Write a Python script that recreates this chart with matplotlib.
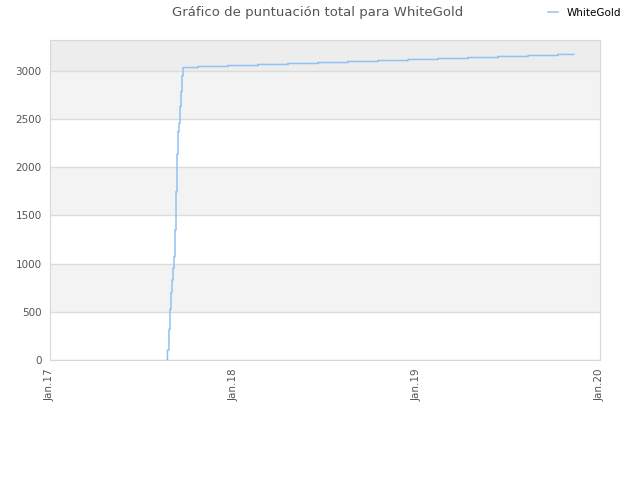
import pandas as pd
import matplotlib.pyplot as plt

# score history
dates = ['2017-08-22', '2017-08-23', '2017-08-26', '2017-08-28', '2017-08-30',
         '2017-09-01', '2017-09-03', '2017-09-05', '2017-09-07', '2017-09-09',
         '2017-09-11', '2017-09-13', '2017-09-15', '2017-09-17', '2017-09-19',
         '2017-09-21', '2017-09-23', '2017-10-23', '2017-12-21', '2018-02-19',
         '2018-04-20', '2018-06-19', '2018-08-17', '2018-10-16', '2018-12-15',
         '2019-02-12', '2019-04-13', '2019-06-12', '2019-08-11', '2019-10-09',
         '2019-11-10']
scores = [0, 104, 318, 526, 699, 830, 952, 1073, 1350, 1747, 2135, 2370, 2457,
          2630, 2785, 2948, 3034, 3045, 3055, 3066, 3076, 3086, 3097, 3107,
          3118, 3128, 3138, 3149, 3159, 3170, 3170]

tick_dates = ['2017-01-01', '2018-01-01', '2019-01-01', '2020-01-01']
tick_labels = ['Jan.17', 'Jan.18', 'Jan.19', 'Jan.20']
y_ticks = [0, 500, 1000, 1500, 2000, 2500, 3000]
y_max = 3320

df = pd.DataFrame({'date': pd.to_datetime(dates), 'score': scores})

fig = plt.figure(figsize=(6.4, 4.8), dpi=100)
ax = fig.add_axes([0.078, 0.25, 0.8595, 0.6667])

# alternating background bands
bands = y_ticks + [y_max]
for i in range(len(bands) - 1):
    if i == len(bands) - 2:
        col = '#ededed'
    elif i % 2 == 1:
        col = '#f3f3f3'
    else:
        col = '#ffffff'
    ax.axhspan(bands[i], bands[i + 1], color=col, zorder=0, lw=0)

ax.step(df['date'], df['score'], where='post', color='#90c2f2', lw=1.1,
        zorder=3, label='WhiteGold', snap=False)

ax.set_xlim(pd.Timestamp(tick_dates[0]), pd.Timestamp(tick_dates[-1]))
ax.set_ylim(0, y_max)
ax.set_xticks(pd.to_datetime(tick_dates))
ax.set_xticklabels(tick_labels, rotation=90)
ax.set_yticks(y_ticks)
ax.yaxis.grid(True, color='#dcdcdc', lw=1, zorder=1)
ax.set_axisbelow(True)
ax.tick_params(length=0, labelsize=7.5, colors='#555555', pad=6)
for s in ax.spines.values():
    s.set_color('#d8d8d8')

fig.text(0.497, 0.974, 'Gráfico de puntuación total para WhiteGold',
         ha='center', va='center', fontsize=9.5, color='#555555')
fig.legend(loc='upper right', bbox_to_anchor=(0.985, 1.003), frameon=False,
           fontsize=7.5, handlelength=1.0, handletextpad=0.8)

plt.savefig('out.png')
